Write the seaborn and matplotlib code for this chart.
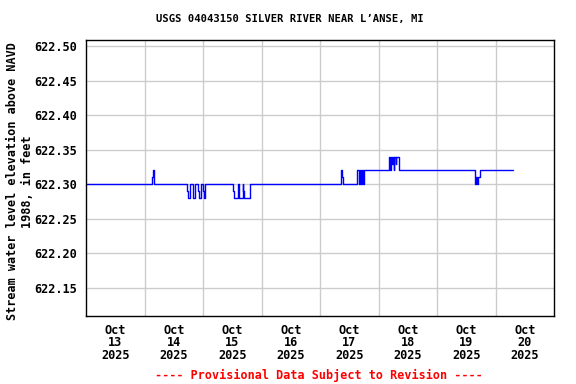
import matplotlib
matplotlib.use("Agg")
import matplotlib.pyplot as plt
import seaborn as sns
import pandas as pd

# change points of the 15-minute gage height record (value holds until next time)
change_times = [
    "2025-10-13 00:00", "2025-10-14 03:00", "2025-10-14 03:30", "2025-10-14 03:45", "2025-10-14 04:00",
    "2025-10-14 17:30", "2025-10-14 17:45", "2025-10-14 18:30",
    "2025-10-14 19:45", "2025-10-14 20:45",
    "2025-10-14 22:00", "2025-10-14 22:15", "2025-10-14 23:00",
    "2025-10-15 00:00", "2025-10-15 00:15", "2025-10-15 01:00",
    "2025-10-15 12:30", "2025-10-15 12:45", "2025-10-15 14:30", "2025-10-15 14:45",
    "2025-10-15 16:15", "2025-10-15 16:30", "2025-10-15 16:45", "2025-10-15 19:15",
    "2025-10-17 08:45", "2025-10-17 09:00", "2025-10-17 09:15",
    "2025-10-17 15:15", "2025-10-17 16:00", "2025-10-17 16:30", "2025-10-17 17:00",
    "2025-10-17 17:15", "2025-10-17 17:45", "2025-10-17 18:15",
    "2025-10-18 04:15", "2025-10-18 04:45", "2025-10-18 05:00", "2025-10-18 05:30",
    "2025-10-18 05:45", "2025-10-18 06:15", "2025-10-18 06:30", "2025-10-18 07:00",
    "2025-10-18 07:15", "2025-10-18 08:15",
    "2025-10-19 15:30", "2025-10-19 16:00", "2025-10-19 16:30", "2025-10-19 17:00",
    "2025-10-19 17:30", "2025-10-20 07:15",
]
change_values = [
    622.30, 622.31, 622.32, 622.31, 622.30,
    622.29, 622.28, 622.30,
    622.28, 622.30,
    622.29, 622.28, 622.30,
    622.29, 622.28, 622.30,
    622.29, 622.28, 622.30, 622.28,
    622.30, 622.29, 622.28, 622.30,
    622.32, 622.31, 622.30,
    622.32, 622.30, 622.32, 622.30,
    622.32, 622.30, 622.32,
    622.34, 622.32, 622.34, 622.33,
    622.34, 622.32, 622.34, 622.33,
    622.34, 622.32,
    622.30, 622.31, 622.30, 622.31,
    622.32, 622.32,
]

y_ticks = [622.15, 622.20, 622.25, 622.30, 622.35, 622.40, 622.45, 622.50]
x_label_days = ["2025-10-13", "2025-10-14", "2025-10-15", "2025-10-16",
                "2025-10-17", "2025-10-18", "2025-10-19", "2025-10-20"]

title = "USGS 04043150 SILVER RIVER NEAR L\u2019ANSE, MI"
ylabel = "Stream water level elevation above NAVD\n1988, in feet"
footer = "---- Provisional Data Subject to Revision ----"

sns.set_theme(style="white")
plt.rcParams["font.family"] = ["DejaVu Sans Mono"]
plt.rcParams["font.weight"] = "bold"
plt.rcParams["text.color"] = "black"
plt.rcParams["xtick.color"] = "black"
plt.rcParams["ytick.color"] = "black"
plt.rcParams["axes.labelcolor"] = "black"

df = pd.DataFrame({"time": pd.to_datetime(change_times), "value": change_values})

fig = plt.figure(figsize=(5.76, 3.84), dpi=100)
ax = fig.add_axes([86/576, 1-316/384, (554-86)/576, (316-40)/384])

sns.lineplot(data=df, x="time", y="value", ax=ax, color="#0000ff", linewidth=1,
             drawstyle="steps-post", estimator=None, sort=True)

ax.set_xlim(pd.Timestamp("2025-10-13"), pd.Timestamp("2025-10-21"))
ax.set_ylim(622.109, 622.509)

ax.set_yticks(y_ticks)
ax.set_yticklabels([f"{v:.2f}" for v in y_ticks], fontsize=8.6, fontweight="bold",
                   color="black")
label_pos = [pd.Timestamp(d) + pd.Timedelta(hours=12) for d in x_label_days]
ax.set_xticks(label_pos)
ax.set_xticklabels([pd.Timestamp(d).strftime("%b\n%d\n%Y") for d in x_label_days],
                   fontsize=8.6, fontweight="bold", linespacing=0.98, color="black")
ax.set_xticks([pd.Timestamp(d) for d in x_label_days[1:]], minor=True)

ax.tick_params(axis="both", which="both", length=0)
ax.tick_params(axis="x", pad=5.5)
ax.tick_params(axis="y", pad=6.5)
ax.grid(False)
ax.yaxis.grid(True, which="major", color="#cccccc", linewidth=1)
ax.xaxis.grid(True, which="minor", color="#cccccc", linewidth=1)
ax.set_axisbelow(True)
for s in ax.spines.values():
    s.set_visible(True)
    s.set_color("black")
    s.set_linewidth(1)
ax.set_xlabel("")
ax.set_ylabel("")

fig.text(289.5/576, 1-19/384, title, ha="center", va="center", fontsize=7.6,
         fontweight="bold", color="black")
fig.text(20/576, 1-181.5/384, ylabel, ha="center", va="center", rotation=90,
         multialignment="center", fontsize=8.45, fontweight="bold", linespacing=1.12,
         color="black")
fig.text(318.5/576, 1-375/384, footer, ha="center", va="center", fontsize=8.45,
         fontweight="bold", color="red")

fig.savefig("out.png", dpi=100)
